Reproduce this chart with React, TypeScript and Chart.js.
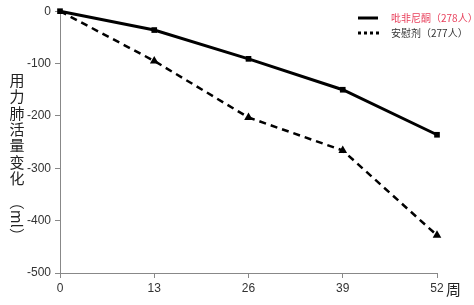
import React, { useEffect, useRef } from "react";
import { Chart, registerables } from "chart.js";
Chart.register(...registerables);

const weeks = [0, 13, 26, 39, 52];
const pirfenidone = [0, -36, -91, -150, -236];
const placebo = [0, -95, -203, -266, -428];
const xTicks = [0, 13, 26, 39, 52];
const yTicks = [0, -100, -200, -300, -400, -500];
const legendLabels = ["吡非尼酮（278人）", "安慰剂（277人）"];
const yTitleChars = ["用", "力", "肺", "活", "量", "变", "化"];
const yTitleUnit = "（ml）";
const xUnit = "周";

const CJK = '"Noto Sans CJK SC", sans-serif';

const decor = {
  id: "decor",
  afterDraw(chart: any) {
    const ctx = chart.ctx;
    ctx.save();
    // y title
    ctx.fillStyle = "#222";
    ctx.font = `15px ${CJK}`;
    ctx.textAlign = "center";
    ctx.textBaseline = "middle";
    const x0 = 17;
    let y = 80;
    yTitleChars.forEach((c) => {
      ctx.fillText(c, x0, y);
      y += 16.4;
    });
    ctx.save();
    ctx.translate(x0, y + 24);
    ctx.rotate(Math.PI / 2);
    ctx.fillText(yTitleUnit, 0, 0);
    ctx.restore();
    // x unit
    const xs = chart.scales.x;
    const ys = chart.scales.y;
    ctx.textAlign = "left";
    ctx.font = `15px ${CJK}`;
    ctx.fillText(xUnit, xs.getPixelForValue(52) + 9, ys.bottom + 16);
    // legend
    ctx.lineWidth = 3;
    ctx.strokeStyle = "#000";
    ctx.beginPath();
    ctx.moveTo(358, 18);
    ctx.lineTo(378, 18);
    ctx.stroke();
    ctx.setLineDash([3, 3]);
    ctx.beginPath();
    ctx.moveTo(358, 33);
    ctx.lineTo(380, 33);
    ctx.stroke();
    ctx.setLineDash([]);
    ctx.font = `10px ${CJK}`;
    ctx.fillStyle = "#e8405c";
    ctx.fillText(legendLabels[0], 391, 18);
    ctx.fillStyle = "#333";
    ctx.fillText(legendLabels[1], 391, 33);
    ctx.restore();
  },
};

export default function App() {
  const ref = useRef<HTMLCanvasElement>(null);
  useEffect(() => {
    document.body.style.margin = "0";
    const chart = new Chart(ref.current!, {
      type: "line",
      data: {
        datasets: [
          {
            label: legendLabels[1],
            data: weeks.map((w, i) => ({ x: w, y: placebo[i] })),
            borderColor: "#000",
            backgroundColor: "#000",
            borderWidth: 2.5,
            borderDash: [7, 5],
            pointStyle: "triangle",
            pointRadius: [0, 5, 5, 5, 5],
            pointBorderWidth: 0,
            clip: false,
          },
          {
            label: legendLabels[0],
            data: weeks.map((w, i) => ({ x: w, y: pirfenidone[i] })),
            borderColor: "#000",
            backgroundColor: "#000",
            borderWidth: 3,
            pointStyle: "rect",
            pointRadius: 4,
            pointBorderWidth: 0,
            clip: false,
          },
        ],
      },
      options: {
        animation: false,
        responsive: false,
        maintainAspectRatio: false,
        layout: { padding: { top: 10, right: 37, left: 0, bottom: 0 } },
        plugins: { legend: { display: false }, tooltip: { enabled: false } },
        scales: {
          x: {
            type: "linear",
            min: 0,
            max: 52,
            afterBuildTicks: (s: any) => {
              s.ticks = xTicks.map((v) => ({ value: v }));
            },
            afterFit: (s: any) => {
              s.height = 32;
            },
            grid: {
              drawOnChartArea: false,
              color: "#888",
              tickLength: 5,
            },
            border: { color: "#888", width: 1 },
            ticks: {
              color: "#333",
              font: { family: '"Liberation Sans", Arial, sans-serif', size: 12 },
              padding: 3,
              maxRotation: 0,
            },
          },
          y: {
            type: "linear",
            min: -500,
            max: 0,
            afterBuildTicks: (s: any) => {
              s.ticks = yTicks.map((v) => ({ value: v }));
            },
            afterFit: (s: any) => {
              s.width = 60;
            },
            grid: {
              drawOnChartArea: false,
              color: "#888",
              tickLength: 5,
            },
            border: { color: "#888", width: 1 },
            ticks: {
              color: "#333",
              font: { family: '"Liberation Sans", Arial, sans-serif', size: 12 },
              padding: 4,
            },
          },
        },
      },
      plugins: [decor],
    });
    return () => chart.destroy();
  }, []);
  return (
    <div style={{ position: "absolute", left: 0, top: 0, width: 474, height: 305, background: "#fff" }}>
      <canvas ref={ref} width={474} height={305} style={{ width: 474, height: 305 }} />
    </div>
  );
}
